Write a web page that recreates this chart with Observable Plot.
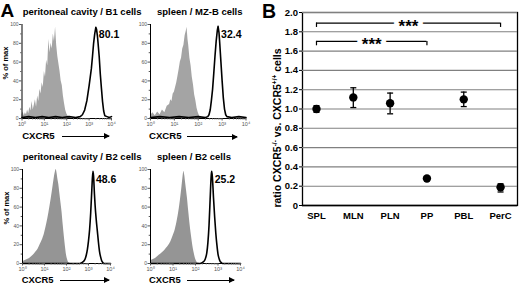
<!DOCTYPE html>
<html><head><meta charset="utf-8">
<script src="https://cdn.jsdelivr.net/npm/d3@7"></script>
<script src="https://cdn.jsdelivr.net/npm/@observablehq/plot@0.6"></script>
<style>
body{margin:0;background:#fff;font-family:'Liberation Sans',Arial,sans-serif;}
#root{position:relative;width:520px;height:285px;overflow:hidden;background:#fff;}
.abs{position:absolute;white-space:nowrap;font-weight:bold;color:#000;line-height:1;}
.plotbox{position:absolute;}
.plotbox svg{overflow:visible;}
.arr{position:absolute;height:0;border-top:1px solid #000;}
.arr::after{content:"";position:absolute;right:-1px;top:-3.5px;border-left:6px solid #000;border-top:3px solid transparent;border-bottom:3px solid transparent;}
.sup{font-size:0.62em;vertical-align:0.55em;line-height:0;}
</style></head><body><div id="root"></div><script>
const FONT = "'Liberation Sans', Arial, sans-serif";

// ---------- Panel A data: [log10 CXCR5 intensity, % of max] ----------
const xDecades = [0, 1, 2, 3, 4];
const xDecadeLabels = ["10⁰", "10¹", "10²", "10³", "10⁴"];
const yPctTicks = [0, 20, 40, 60, 80, 100];
const yPctMinor = [10, 30, 50, 70, 90];

const b1Grey = [[0,4],[0.05,7],[0.1,3],[0.15,6],[0.2,4],[0.25,9],[0.3,5],[0.35,12],[0.4,8],[0.45,18],[0.5,9],[0.55,14],[0.6,20],[0.65,12],[0.7,24],[0.75,18],[0.8,31],[0.85,26],[0.9,38],[0.95,33],[1.0,50],[1.05,44],[1.1,62],[1.15,56],[1.2,84],[1.25,70],[1.3,80],[1.35,74],[1.4,90],[1.45,82],[1.5,97],[1.55,78],[1.6,66],[1.65,58],[1.7,50],[1.75,40],[1.8,35],[1.85,24],[1.9,16],[1.95,9],[2.0,5],[2.05,3],[2.1,1],[2.2,0],[4,0]];
const b1Black = [[0,1],[0.3,2],[0.6,1],[0.9,2],[1.2,1],[1.5,2],[1.8,1],[2.1,2],[2.4,1],[2.6,2],[2.7,4],[2.8,9],[2.9,19],[2.95,27],[3.0,35],[3.05,44],[3.1,53],[3.15,66],[3.2,80],[3.25,90],[3.3,97],[3.33,95],[3.37,88],[3.4,80],[3.45,66],[3.5,47],[3.55,32],[3.6,18],[3.65,8],[3.7,3],[3.8,2],[3.9,1],[4,2]];

const mzGrey = [[0,3],[0.1,6],[0.2,3],[0.3,7],[0.4,4],[0.5,9],[0.6,6],[0.7,13],[0.8,15],[0.85,20],[0.9,18],[0.95,26],[1.0,28],[1.05,33],[1.1,38],[1.15,45],[1.2,52],[1.25,60],[1.3,64],[1.35,74],[1.4,78],[1.45,88],[1.5,93],[1.53,97],[1.57,84],[1.6,78],[1.65,64],[1.7,56],[1.75,44],[1.8,36],[1.85,25],[1.9,19],[1.95,11],[2.0,6],[2.05,3],[2.1,1],[2.2,0],[4,0]];
const mzBlack = [[0,1],[0.4,2],[0.8,1],[1.2,2],[1.6,1],[2.0,2],[2.3,1],[2.4,2],[2.45,4],[2.5,9],[2.55,19],[2.6,31],[2.65,48],[2.7,66],[2.75,82],[2.8,94],[2.83,98],[2.87,91],[2.9,80],[2.95,60],[3.0,40],[3.05,22],[3.1,10],[3.15,4],[3.2,2],[3.4,1],[3.7,2],[4,1]];

const b2PcGrey = [[0,2],[0.1,3],[0.2,4],[0.3,5],[0.4,7],[0.5,9],[0.6,12],[0.7,15],[0.8,20],[0.9,25],[1.0,32],[1.1,42],[1.2,54],[1.3,68],[1.4,84],[1.45,92],[1.5,98],[1.53,100],[1.57,96],[1.6,91],[1.65,84],[1.7,74],[1.75,64],[1.8,54],[1.85,41],[1.9,29],[1.95,18],[2.0,9],[2.05,4],[2.1,1],[2.2,0],[4,0]];
const b2PcBlack = [[0,0],[2.6,0],[2.7,1],[2.8,3],[2.85,5],[2.9,9],[2.95,15],[3.0,24],[3.05,36],[3.1,54],[3.15,78],[3.2,98],[3.23,93],[3.27,74],[3.3,62],[3.35,47],[3.4,35],[3.45,23],[3.5,13],[3.55,7],[3.6,3],[3.65,1],[3.7,0],[4,0]];

const b2SpGrey = [[0,3],[0.1,4],[0.2,5],[0.3,7],[0.4,9],[0.5,11],[0.6,13],[0.7,16],[0.8,19],[0.9,23],[1.0,29],[1.1,36],[1.2,47],[1.3,62],[1.4,82],[1.45,93],[1.48,98],[1.52,94],[1.56,86],[1.6,78],[1.64,70],[1.7,55],[1.75,43],[1.8,33],[1.85,24],[1.9,16],[1.95,10],[2.0,5],[2.05,2],[2.1,0.5],[2.2,0],[4,0]];
const b2SpBlack = [[0,0],[2.2,0],[2.3,1],[2.4,3],[2.45,6],[2.5,11],[2.55,22],[2.6,40],[2.65,68],[2.7,94],[2.72,98],[2.75,92],[2.8,70],[2.85,50],[2.9,33],[2.95,20],[3.0,10],[3.05,5],[3.1,2],[3.15,1],[3.2,0],[4,0]];

const panelTitles = ["peritoneal cavity / B1 cells", "spleen / MZ-B cells", "peritoneal cavity / B2 cells", "spleen / B2 cells"];
const panelPct = ["80.1", "32.4", "48.6", "25.2"];
const axisName = "CXCR5";
const yAxisNameA = "% of max";

// ---------- Panel B data ----------
const organs = ["SPL", "MLN", "PLN", "PP", "PBL", "PerC"];
const ratioMean = [1.00, 1.12, 1.06, 0.28, 1.10, 0.19];
const ratioLow  = [0.965, 1.015, 0.95, 0.265, 1.025, 0.14];
const ratioHigh = [1.035, 1.22, 1.165, 0.295, 1.175, 0.225];
const ratioTicks = [0, 0.2, 0.4, 0.6, 0.8, 1.0, 1.2, 1.4, 1.6, 1.8, 2.0];
const sigFrom = ["SPL", "SPL"];
const sigTo = ["PerC", "PP"];
const sigY = [1.89, 1.70];
const sigLabel = ["***", "***"];

const root = document.getElementById("root");
function place(el, left, top) {
  const box = document.createElement("div");
  box.className = "plotbox";
  box.style.left = left + "px";
  box.style.top = top + "px";
  box.appendChild(el);
  root.appendChild(box);
}
function label(html, left, top, size, extra) {
  const d = document.createElement("div");
  d.className = "abs";
  d.style.left = left + "px";
  d.style.top = top + "px";
  d.style.fontSize = size + "px";
  if (extra) Object.assign(d.style, extra);
  d.innerHTML = html;
  root.appendChild(d);
  return d;
}
function arrow(left, top, width) {
  const d = document.createElement("div");
  d.className = "arr";
  d.style.left = left + "px";
  d.style.top = top + "px";
  d.style.width = width + "px";
  root.appendChild(d);
}

const xMinor = d3.range(0, 4).flatMap(d => d3.range(2, 10).map(k => d + Math.log10(k)));

function histogram(grey, black, pct, o) {
  const mT = 4, mB = 14, mR = 8;
  const peak = d3.greatest(black, d => d[1]);
  const marks = [
    Plot.areaY(grey, {x: d => d[0], y: d => d[1], fill: o.greyFill, curve: o.curve}),
    Plot.lineY(black, {x: d => d[0], y: d => d[1], stroke: "#000", strokeWidth: 1.6, curve: o.curve}),
    Plot.ruleY([0], {stroke: "#000", strokeWidth: 1}),
    Plot.ruleX([0], {stroke: "#000", strokeWidth: 1}),
    Plot.axisY({ticks: yPctTicks, tickSize: 2.5, tickPadding: 1, fontSize: 5, color: "#555", label: null}),
    Plot.axisY({ticks: yPctMinor, tickSize: 1.3, tickFormat: () => "", color: "#555", label: null}),
    Plot.axisX({ticks: xDecades, tickFormat: i => xDecadeLabels[i], tickSize: 2.5, tickPadding: 1, fontSize: 5.5, color: "#555", label: null}),
    Plot.axisX({ticks: xMinor, tickSize: 1.4, tickFormat: () => "", color: "#555", label: null}),
    Plot.text([pct], {text: d => d, x: peak[0], frameAnchor: "top", dx: 3, dy: 6, textAnchor: "start", fontSize: 10.5, fontWeight: "bold", fill: "#000"})
  ];
  if (o.yLabel) marks.push(Plot.text([yAxisNameA], {text: d => d, frameAnchor: "left", rotate: -90, dx: -16, dy: 8, fontSize: 7.5, fontWeight: "bold", fill: "#000"}));
  return Plot.plot({
    width: o.mL + o.w + mR, height: mT + 94 + mB,
    marginLeft: o.mL, marginRight: mR, marginTop: mT, marginBottom: mB,
    x: {domain: [0, 4]}, y: {domain: [0, 100]},
    style: {fontFamily: FONT, background: "transparent", overflow: "visible"},
    marks
  });
}

// plot-area geometry (x0, y0 = top-left of frame)
const hist = [
  {grey: b1Grey, black: b1Black, x0: 21.5, y0: 24, w: 89.5, mL: 21.5, yLabel: true, greyFill: "#a4a4a4", curve: "linear"},
  {grey: mzGrey, black: mzBlack, x0: 149.5, y0: 24, w: 95.5, mL: 12, yLabel: false, greyFill: "#a4a4a4", curve: "linear"},
  {grey: b2PcGrey, black: b2PcBlack, x0: 22, y0: 169, w: 88, mL: 22, yLabel: true, greyFill: "#959595", curve: "monotone-x"},
  {grey: b2SpGrey, black: b2SpBlack, x0: 150, y0: 169, w: 90, mL: 12, yLabel: false, greyFill: "#959595", curve: "monotone-x"}
];
hist.forEach((h, i) => {
  place(histogram(h.grey, h.black, panelPct[i], h), h.x0 - h.mL, h.y0 - 4);
});

// panel titles, axis names, arrows
label(panelTitles[0], 22.7, 7, 9.5);
label(panelTitles[1], 157, 7, 9.5);
label(panelTitles[2], 22.7, 152.4, 9.5);
label(panelTitles[3], 157, 152.4, 9.5);
label(axisName, 22.2, 130.5, 9.6);
label(axisName, 149, 130.5, 9.6);
label(axisName, 21.7, 274.5, 9.4);
label(axisName, 149, 274.5, 9.4);
arrow(62, 135.5, 47);
arrow(187, 136, 50);
arrow(60, 279.5, 49);
arrow(187, 279.5, 47);
label("A", 0.5, 0.5, 19);
label("B", 262, 2, 19.5);

// ---------- Panel B ----------
const organIdx = organs.map((_, i) => i);
const sig = sigFrom.map((f, i) => ({x1: organs.indexOf(f), x2: organs.indexOf(sigTo[i]), y: sigY[i], label: sigLabel[i]}));
const capSymbol = {draw(ctx) { ctx.moveTo(-3, 0); ctx.lineTo(3, 0); }};
const bPlot = Plot.plot({
  width: 260, height: 225,
  marginLeft: 42, marginRight: 3, marginTop: 12, marginBottom: 20,
  x: {domain: [-0.38, 5.46]}, y: {domain: [0, 2]},
  style: {fontFamily: FONT, background: "transparent", overflow: "visible"},
  marks: [
    Plot.frame({stroke: "#000", strokeWidth: 1.3}),
    Plot.ruleY(ratioTicks.filter(t => t > 0), {stroke: "#808080", strokeWidth: 1.1}),
    Plot.ruleY([0], {stroke: "#000", strokeWidth: 1.5}),
    Plot.axisY({ticks: ratioTicks, tickFormat: d => d === 0 ? "0" : d.toFixed(1), tickSize: 3, tickPadding: 1.5, fontSize: 9.5, fontWeight: "bold", color: "#000", label: null}),
    Plot.axisX({ticks: organIdx, tickFormat: i => organs[i], tickSize: 0, tickPadding: 7, fontSize: 9.5, fontWeight: "bold", color: "#000", label: null}),
    // error bars
    Plot.ruleX(organs, {x: (d, i) => i, y1: (d, i) => ratioLow[i], y2: (d, i) => ratioHigh[i], stroke: "#000", strokeWidth: 1.3}),
    Plot.dot(organs, {x: (d, i) => i, y: (d, i) => ratioLow[i], symbol: capSymbol, fill: "none", stroke: "#000", strokeWidth: 1.3, r: 3}),
    Plot.dot(organs, {x: (d, i) => i, y: (d, i) => ratioHigh[i], symbol: capSymbol, fill: "none", stroke: "#000", strokeWidth: 1.3, r: 3}),
    Plot.dot(organs, {x: (d, i) => i, y: (d, i) => ratioMean[i], r: 4.2, fill: "#000", stroke: "none"}),
    // significance brackets
    Plot.ruleX(sig, {x: "x1", y1: d => d.y - 0.045, y2: "y", stroke: "#000", strokeWidth: 1.2}),
    Plot.ruleX(sig, {x: "x2", y1: d => d.y - 0.045, y2: "y", stroke: "#000", strokeWidth: 1.2}),
    Plot.ruleY(sig, {x1: "x1", x2: "x2", y: "y", stroke: "#000", strokeWidth: 1.2}),
    Plot.text(sig, {x: d => (d.x1 + d.x2) / 2, y: "y", text: "label", fontSize: 17, fontWeight: "bold", dy: 3.5, fill: "#000", stroke: "#fff", strokeWidth: 9})
  ]
});
place(bPlot, 260, 0);

// panel B y-axis name with superscripts
label('ratio CXCR5<span class="sup">-/-</span> vs. CXCR5<span class="sup">+/+</span> cells', 277, 128, 10.5,
  {transform: "translate(-50%,-50%) rotate(-90deg)"});
</script></body></html>
